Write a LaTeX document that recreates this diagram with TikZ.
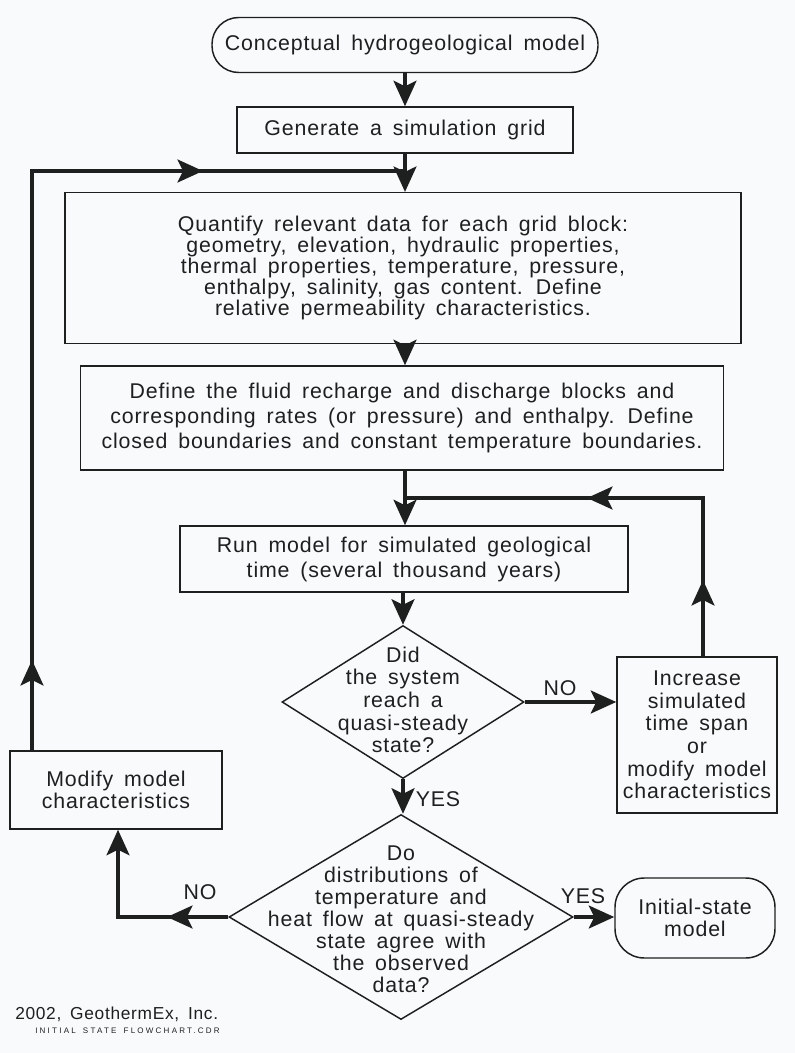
\documentclass[tikz,border=0pt]{standalone}
\usepackage{fontspec}
\setmainfont{Liberation Sans}[LetterSpace=4,WordSpace=1.6]
\usetikzlibrary{arrows.meta,shapes.geometric}
\definecolor{bg}{RGB}{248,250,251}
\definecolor{ink}{RGB}{30,32,32}
\begin{document}
\begin{tikzpicture}[x=0.75pt,y=-0.75pt,
  every node/.style={text=ink},
  box/.style={draw=ink, line width=1.1pt, inner sep=0pt, align=center},
  term/.style={box, rounded corners=20pt},
  dia/.style={draw=ink, diamond, line width=1.1pt, inner sep=0pt},
  txt/.style={align=center, inner sep=0pt},
  conn/.style={line width=3.2pt, draw=ink, line join=miter},
  tip/.style={-{Stealth[length=19pt,width=17pt,inset=4pt]}},
  lab/.style={inner sep=0pt, font=\fontsize{16}{18}\selectfont}]
\fill[bg] (0,0) rectangle (795,1053);
% nodes
\node[term, minimum width=289.5pt, minimum height=41.25pt, font=\fontsize{16}{18}\selectfont] (start) at (405,45) {Conceptual hydrogeological model};
\node[box, minimum width=252pt, minimum height=34.5pt, font=\fontsize{16}{18}\selectfont] (gen) at (405,130) {Generate a simulation grid};
\node[box, minimum width=507pt, minimum height=113pt, font=\fontsize{16}{15.75}\selectfont] (quant) at (403,268) {Quantify relevant data for each grid block:\\ geometry, elevation, hydraulic properties,\\ thermal properties, temperature, pressure,\\ enthalpy, salinity, gas content. Define\\ relative permeability characteristics.};
\node[box, minimum width=482pt, minimum height=78pt, font=\fontsize{16}{18.4}\selectfont] (define) at (402,418) {Define the fluid recharge and discharge blocks and\\ corresponding rates (or pressure) and enthalpy. Define\\ closed boundaries and constant temperature boundaries.};
\node[box, minimum width=336pt, minimum height=49.5pt, font=\fontsize{16}{18.75}\selectfont] (run) at (404,559) {Run model for simulated geological\\ time (several thousand years)};
\node[dia, minimum width=181.5pt, minimum height=114.75pt] (d1) at (403,702) {};
\node[txt, font=\fontsize{16}{17}\selectfont] (d1t) at (403,700) {Did\\ the system\\ reach a\\ quasi-steady\\ state?};
\node[box, minimum width=120pt, minimum height=117pt, font=\fontsize{16}{17}\selectfont] (incr) at (697,735) {Increase\\ simulated\\ time span\\ or\\ modify model\\ characteristics};
\node[box, minimum width=159pt, minimum height=58.5pt, font=\fontsize{16}{16.5}\selectfont] (modify) at (116,790) {Modify model\\ characteristics};
\node[dia, minimum width=258pt, minimum height=153.75pt] (d2) at (401,917) {};
\node[txt, font=\fontsize{16}{16.5}\selectfont] (d2t) at (401,919) {Do\\ distributions of\\ temperature and\\ heat flow at quasi-steady\\ state agree with\\ the observed\\ data?};
\node[term, minimum width=120pt, minimum height=60pt, rounded corners=22pt, font=\fontsize{16}{17}\selectfont] (init) at (695,918) {Initial-state\\ model};
% footer
\node[anchor=west, inner sep=0pt, font=\fontsize{13}{14}\selectfont] (foot) at (15,1014) {2002, GeothermEx, Inc.};
\node[anchor=west, inner sep=0pt, font=\fontsize{6}{7}\selectfont\addfontfeatures{LetterSpace=28}] (foot2) at (35,1031) {INITIAL STATE FLOWCHART.CDR};
% coordinates
\coordinate (LT) at (32,171);
\coordinate (LA) at (32,660);
\coordinate (LH) at (203,171);
\coordinate (RT) at (703,498);
\coordinate (RA) at (703,580);
\coordinate (RH) at (587,498);
\coordinate (NC) at (118,917);
\coordinate (NH) at (167,917);
% main column
\draw[conn,tip] (start.south) -- (start.south |- gen.north);
\draw[conn,tip] (gen.south) -- (gen.south |- quant.north);
\draw[conn,tip] (quant.south -| gen.south) -- (gen.south |- define.north);
\draw[conn,tip] (define.south -| gen.south) -- (gen.south |- run.north);
\draw[conn,tip] (run.south -| d1.north) -- (d1.north);
\draw[conn,tip] (d1.south) -- (d1.south |- d2.north);
% left loop
\draw[conn] (modify.north -| LT) -- (LT) -- (LT -| gen.south);
\draw[conn,tip] (modify.north -| LT) -- (LA);
\draw[conn,tip] (LT) -- (LH);
% right loop
\draw[conn] (incr.north -| RT) -- (RT) -- (RT -| gen.south);
\draw[conn,tip] (incr.north -| RT) -- (RA);
\draw[conn,tip] (RT) -- (RH);
% decisions
\draw[conn,tip] (d1.east) -- (d1.east -| incr.west);
\draw[conn,tip] (d2.east) -- (d2.east -| init.west);
\draw[conn,tip] (d2.west) -- (NC) -- (modify.south -| NC);
\draw[conn,tip] (d2.west) -- (NH);
% labels
\node[lab] (no1) at (560,688) {NO};
\node[lab] (yes1) at (438,799) {YES};
\node[lab] (yes2) at (583,896) {YES};
\node[lab] (no2) at (200,892) {NO};
\end{tikzpicture}
\end{document}
